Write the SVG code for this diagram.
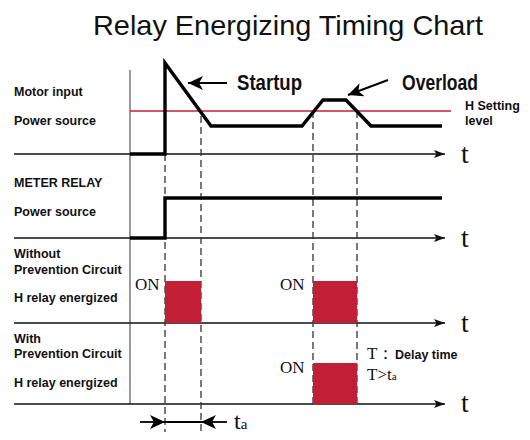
<svg xmlns="http://www.w3.org/2000/svg" width="530" height="440" viewBox="0 0 530 440">
<style>
.lbl{font-family:"Liberation Sans",Arial,sans-serif;font-weight:bold;font-size:12.5px;fill:#111}
.ser{font-family:"Liberation Serif","Times New Roman",serif;fill:#111}
.big{font-family:"Liberation Sans",Arial,sans-serif;font-weight:bold;font-size:21.5px;fill:#111}
.axis{stroke:#111;stroke-width:1.3;fill:none}
.sig{stroke:#000;stroke-width:3.4;fill:none;stroke-linejoin:miter}
.dash{stroke:#333;stroke-width:1.3;stroke-dasharray:7 4;fill:none}
.on{fill:#c21f37}
</style>
<defs>
<marker id="ax" markerWidth="12" markerHeight="10" refX="11" refY="5" orient="auto" markerUnits="userSpaceOnUse">
<path d="M0,1 L11,5 L0,9 L2.5,5 Z" fill="#111"/>
</marker>
<marker id="ar" markerWidth="16" markerHeight="14" refX="15" refY="7" orient="auto" markerUnits="userSpaceOnUse">
<path d="M0,0 L15,7 L0,14 L4,7 Z" fill="#000"/>
</marker>
</defs>
<rect width="530" height="440" fill="#fff"/>
<text x="288" y="35" text-anchor="middle" font-family="Liberation Sans, Arial, sans-serif" font-size="28.5" fill="#111" textLength="390" lengthAdjust="spacingAndGlyphs">Relay Energizing Timing Chart</text>

<g id="labels">
<text class="lbl" x="14" y="96">Motor input</text>
<text class="lbl" x="14" y="125">Power source</text>
<text class="lbl" x="14" y="187">METER RELAY</text>
<text class="lbl" x="14" y="216">Power source</text>
<text class="lbl" x="14" y="258">Without</text>
<text class="lbl" x="14" y="274">Prevention Circuit</text>
<text class="lbl" x="14" y="302">H relay energized</text>
<text class="lbl" x="14" y="343">With</text>
<text class="lbl" x="14" y="358">Prevention Circuit</text>
<text class="lbl" x="14" y="387">H relay energized</text>
<text class="lbl" x="465" y="110">H Setting</text>
<text class="lbl" x="465" y="125">level</text>
</g>

<g id="axes">
<line x1="130" y1="70" x2="130" y2="404" stroke="#777" stroke-width="1.5"/>
<line class="axis" x1="14" y1="154" x2="445" y2="154" marker-end="url(#ax)"/>
<line class="axis" x1="14" y1="238" x2="445" y2="238" marker-end="url(#ax)"/>
<line class="axis" x1="14" y1="323" x2="445" y2="323" marker-end="url(#ax)"/>
<line class="axis" x1="14" y1="404" x2="445" y2="404" marker-end="url(#ax)"/>
<text class="ser" x="461" y="163" font-size="28">t</text>
<text class="ser" x="461" y="247" font-size="28">t</text>
<text class="ser" x="461" y="332" font-size="28">t</text>
<text class="ser" x="461" y="412" font-size="28">t</text>
</g>

<g id="dashes">
<line class="dash" x1="165" y1="154" x2="165" y2="432"/>
<line class="dash" x1="201" y1="116" x2="201" y2="432"/>
<line class="dash" x1="313" y1="111" x2="313" y2="404"/>
<line class="dash" x1="357" y1="111" x2="357" y2="404"/>
</g>

<g id="h-setting">
<line x1="130" y1="111" x2="451" y2="111" stroke="#c21f37" stroke-width="1.5"/>
</g>

<g id="motor-signal">
<polyline class="sig" points="130,154 165,154 165,63 211,126 302,126 323,100 346,100 371,126 442,126"/>
</g>

<g id="meter-signal">
<polyline class="sig" points="130,238 165,238 165,198 442,198"/>
</g>

<g id="without-relay">
<rect class="on" x="165" y="281" width="36" height="42"/>
<rect class="on" x="313" y="281" width="44" height="42"/>
<text class="ser" x="135" y="290" font-size="17">ON</text>
<text class="ser" x="280" y="290" font-size="17">ON</text>
</g>

<g id="with-relay">
<rect class="on" x="313" y="363" width="44" height="41"/>
<text class="ser" x="280" y="373" font-size="17">ON</text>
<text class="ser" x="367" y="359" font-size="17">T：</text>
<text class="lbl" x="395" y="359" font-size="12">Delay time</text>
<text class="ser" x="367" y="380" font-size="17">T&gt;t<tspan font-size="11">a</tspan></text>
</g>

<g id="connectors">
<line x1="227" y1="83" x2="188" y2="83" stroke="#000" stroke-width="2" marker-end="url(#ar)"/>
<line x1="388" y1="80" x2="348" y2="95" stroke="#000" stroke-width="2" marker-end="url(#ar)"/>
<line x1="140" y1="422" x2="165" y2="422" stroke="#000" stroke-width="1.8" marker-end="url(#ar)"/>
<line x1="165" y1="422" x2="201" y2="422" stroke="#000" stroke-width="1.8"/>
<line x1="227" y1="422" x2="201" y2="422" stroke="#000" stroke-width="1.8" marker-end="url(#ar)"/>
</g>

<g id="callouts">
<text class="big" x="237" y="90" textLength="65" lengthAdjust="spacingAndGlyphs">Startup</text>
<text class="big" x="402" y="90" textLength="76" lengthAdjust="spacingAndGlyphs">Overload</text>
<text class="ser" x="234" y="429" font-size="24">t<tspan font-size="15">a</tspan></text>
</g>
</svg>
